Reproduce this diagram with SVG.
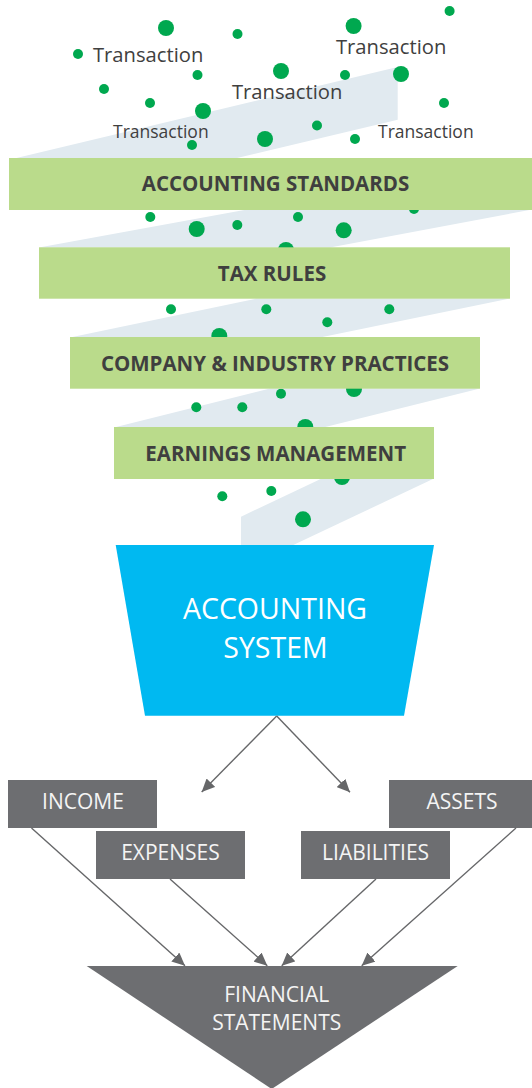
<svg xmlns="http://www.w3.org/2000/svg" width="532" height="1088" viewBox="0 0 532 1088">
<defs>
<style>
.band{fill:#e1eaf0}
.dot{fill:#00a84f}
.tr{font-family:"Open Sans","Liberation Sans",sans-serif;fill:#404040}
.bar{fill:#badb8b}
.bt{font-family:"Open Sans","Liberation Sans",sans-serif;font-weight:700;font-size:20.5px;fill:#3f3f3f;text-anchor:middle}
.box{fill:#6d6e71}
.wt{font-family:"Open Sans","Liberation Sans",sans-serif;font-size:21px;fill:#f4f4f4;text-anchor:middle}
.conn{stroke:#666769;stroke-width:1.4;fill:none;marker-end:url(#ah)}
</style>
<marker id="ah" markerUnits="userSpaceOnUse" markerWidth="14" markerHeight="12" refX="13" refY="6" orient="auto">
<path d="M0,0 L13,6 L0,12 z" fill="#666769"/>
</marker>
</defs>
<rect width="532" height="1088" fill="#ffffff"/>
<g id="flow-band">
<polygon class="band" points="10.2,159.5 397.7,67 397.7,119.8 230.7,159.5"/>
<polygon class="band" points="247,209.5 532,209.5 330,247.5 39,247.5"/>
<polygon class="band" points="256.7,298.5 510,298.5 320,337.5 70,337.5"/>
<polygon class="band" points="270,388.5 480,388.5 323.3,427.5 114,427.5"/>
<polygon class="band" points="321.7,478.5 434,478.5 293.3,545 241,545 241,516.7"/>
</g>
<g id="transactions">
<g class="dot">
<circle cx="166" cy="28" r="8"/>
<circle cx="237.5" cy="34" r="5"/>
<circle cx="353.6" cy="26" r="8"/>
<circle cx="449.6" cy="11" r="5"/>
<circle cx="78" cy="54" r="5"/>
<circle cx="197.5" cy="75" r="5"/>
<circle cx="281" cy="71" r="8"/>
<circle cx="345" cy="75" r="5"/>
<circle cx="401" cy="74" r="8"/>
<circle cx="104" cy="89" r="5"/>
<circle cx="150" cy="103" r="5"/>
<circle cx="203" cy="111" r="8"/>
<circle cx="444" cy="103" r="5"/>
<circle cx="192" cy="145" r="5"/>
<circle cx="265" cy="139" r="8"/>
<circle cx="317" cy="125.5" r="5"/>
<circle cx="355" cy="139" r="5"/>
<circle cx="150.3" cy="217" r="5"/>
<circle cx="196.7" cy="229" r="8"/>
<circle cx="237.3" cy="225" r="5"/>
<circle cx="298" cy="217" r="5"/>
<circle cx="343.7" cy="230.3" r="8"/>
<circle cx="414" cy="209" r="5"/>
<circle cx="286" cy="250" r="8"/>
<circle cx="171" cy="309.3" r="5"/>
<circle cx="266.3" cy="309.3" r="5"/>
<circle cx="389.3" cy="309.3" r="5"/>
<circle cx="327.3" cy="322.3" r="5"/>
<circle cx="219.3" cy="336" r="8"/>
<circle cx="196.3" cy="407.3" r="5"/>
<circle cx="242.3" cy="407.3" r="5"/>
<circle cx="281" cy="393.7" r="5"/>
<circle cx="354" cy="389" r="8"/>
<circle cx="305.3" cy="427" r="8"/>
<circle cx="222.3" cy="496.3" r="5"/>
<circle cx="271.3" cy="491" r="5"/>
<circle cx="303" cy="519.3" r="8"/>
<circle cx="342" cy="477" r="8"/>
</g>
<text class="tr" x="93" y="61.5" font-size="20.2">Transaction</text>
<text class="tr" x="336" y="54" font-size="20.2">Transaction</text>
<text class="tr" x="232" y="98.5" font-size="20.2">Transaction</text>
<text class="tr" x="113" y="137.5" font-size="17.5">Transaction</text>
<text class="tr" x="378" y="137.5" font-size="17.5">Transaction</text>
</g>
<g id="node-accounting-standards">
<rect class="bar" x="9" y="158" width="523" height="52"/>
<text class="bt" x="275.5" y="191">ACCOUNTING STANDARDS</text>
</g>
<g id="node-tax-rules">
<rect class="bar" x="39" y="247.3" width="471" height="51.4"/>
<text class="bt" x="272" y="280.5">TAX RULES</text>
</g>
<g id="node-company-practices">
<rect class="bar" x="70" y="337" width="410" height="51.7"/>
<text class="bt" x="275" y="370.5">COMPANY &amp; INDUSTRY PRACTICES</text>
</g>
<g id="node-earnings-management">
<rect class="bar" x="114" y="427" width="320" height="52"/>
<text class="bt" x="275.7" y="460.5">EARNINGS MANAGEMENT</text>
</g>
<g id="node-accounting-system">
<polygon points="115.7,545 434,545 404,715.7 145,715.7" fill="#00b9f1"/>
<text x="275" y="619" font-family="Open Sans, Liberation Sans, sans-serif" font-size="28.5" fill="#ffffff" text-anchor="middle">ACCOUNTING</text>
<text x="275.5" y="658" font-family="Open Sans, Liberation Sans, sans-serif" font-size="28.5" fill="#ffffff" text-anchor="middle">SYSTEM</text>
</g>
<g id="node-income">
<rect class="box" x="8" y="780" width="149" height="48"/>
<text class="wt" x="83" y="809">INCOME</text>
</g>
<g id="node-assets">
<rect class="box" x="389" y="780" width="143" height="48"/>
<text class="wt" x="462" y="809">ASSETS</text>
</g>
<g id="node-expenses">
<rect class="box" x="96" y="831" width="149" height="48"/>
<text class="wt" x="170.5" y="859.5">EXPENSES</text>
</g>
<g id="node-liabilities">
<rect class="box" x="301" y="831" width="149" height="48"/>
<text class="wt" x="375.6" y="859.5">LIABILITIES</text>
</g>
<g id="node-financial-statements">
<polygon class="box" points="86.7,966 457.7,966 271.7,1089"/>
<text class="wt" x="276.7" y="1001.7">FINANCIAL</text>
<text class="wt" x="276.7" y="1030">STATEMENTS</text>
</g>
<g id="connectors">
<line class="conn" x1="276.7" y1="716" x2="201.7" y2="792"/>
<line class="conn" x1="276.7" y1="716" x2="350" y2="792.3"/>
<line class="conn" x1="31.5" y1="828" x2="185" y2="965.7"/>
<line class="conn" x1="170" y1="879" x2="267.3" y2="965.7"/>
<line class="conn" x1="376" y1="879" x2="281.7" y2="965.7"/>
<line class="conn" x1="516" y1="828" x2="361.7" y2="965.7"/>
</g>
</svg>
